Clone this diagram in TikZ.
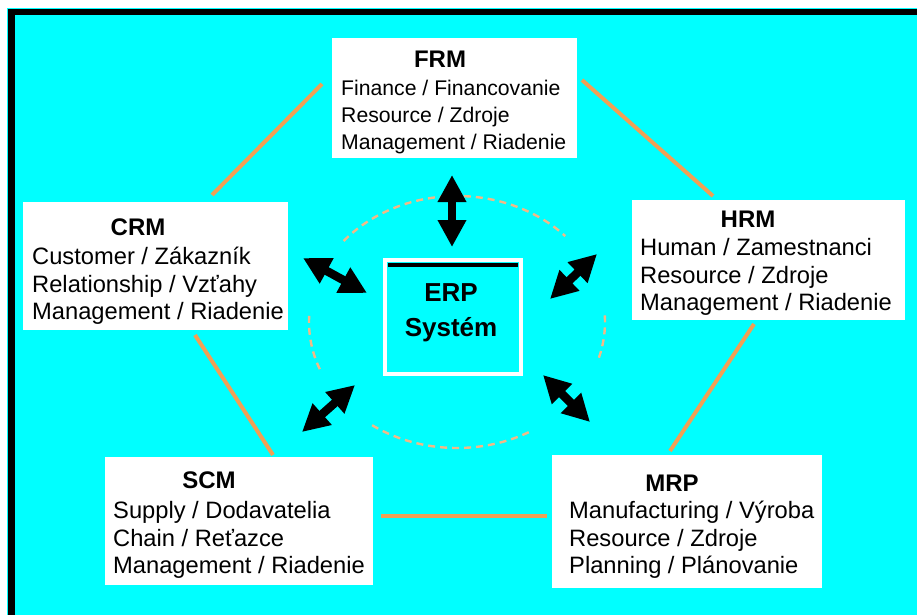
\documentclass[tikz,border=0pt]{standalone}
\usepackage{fontspec}
\setmainfont{Liberation Sans}
\usepackage{tikz}
\usetikzlibrary{arrows.meta}
\usetikzlibrary{calc}
\usetikzlibrary{positioning}
\definecolor{sky}{RGB}{0,255,255}
\definecolor{rope}{RGB}{240,160,85}
\definecolor{ringc}{RGB}{242,185,135}

\begin{document}
\begin{tikzpicture}[x=1pt, y=-1pt,
			module/.style={rectangle, fill=white, inner sep=0pt},
			head/.style={inner sep=0pt, font=\fontsize{24}{28}\selectfont\bfseries},
			body/.style={inner sep=0pt, anchor=west, align=left, font=\fontsize{23.7}{27.5}\selectfont},
			link/.style={rope, line width=4pt},
			ring/.style={ringc, line width=2.4pt, dash pattern=on 7pt off 5pt},
			flow/.style={line width=8.5pt, {Triangle[length=27pt,width=27pt]}-{Triangle[length=27pt,width=27pt]}}
		]
		\useasboundingbox (0,0) rectangle (917,615);
		\fill[white] (0,0) rectangle (917,615);
		\fill[sky] (7,8) rectangle (917,615);
		\fill[black] (8,9) rectangle (917,15);
		\fill[black] (8,9) rectangle (15,615);

		% modules
		\node[module, minimum width=245pt, minimum height=120pt] (frm) at (454.5,98) {};
		\node[module, minimum width=265pt, minimum height=128pt] (crm) at (155.5,266) {};
		\node[module, minimum width=273pt, minimum height=120pt] (hrm) at (768.5,260) {};
		\node[module, minimum width=268pt, minimum height=128pt] (scm) at (239,521) {};
		\node[module, minimum width=270pt, minimum height=133pt] (mrp) at (687,521.5) {};

		\node[head] (frm-t) at (440,59) {FRM};
		\node[head] (crm-t) at (138,227) {CRM};
		\node[head] (hrm-t) at (748,219) {HRM};
		\node[head] (scm-t) at (209,480) {SCM};
		\node[head] (mrp-t) at (672,483) {MRP};

		\node[body, font=\fontsize{21.2}{27}\selectfont] (frm-b) at (341,117) {Finance / Financovanie\\Resource / Zdroje\\Management / Riadenie};
		\node[body] (crm-b) at (32,286) {Customer / Zákazník\\Relationship / Vzťahy\\Management / Riadenie};
		\node[body] (hrm-b) at (640,277) {Human / Zamestnanci\\Resource / Zdroje\\Management / Riadenie};
		\node[body] (scm-b) at (113,540) {Supply / Dodavatelia\\Chain / Reťazce\\Management / Riadenie};
		\node[body] (mrp-b) at (569,540) {Manufacturing / Výroba\\Resource / Zdroje\\Planning / Plánovanie};

		% ERP core
		\node[draw=white, line width=4pt, minimum width=136pt, minimum height=114pt] (erp) at (453,317) {};
		\fill[black] (388,263) rectangle (518,267);
		\node[align=center, inner sep=0pt, font=\fontsize{26}{35}\selectfont\bfseries] (erp-t) at (451,313) {ERP\\Systém};

		% ring around the core
		\coordinate (hub) at (457,322);
		\draw[ring] (hub) ++(-140:148 and 126) arc[start angle=-140, end angle=-43, x radius=148, y radius=126];
		\draw[ring] (hub) ++(158:148 and 126) arc[start angle=158, end angle=184, x radius=148, y radius=126];
		\draw[ring] (hub) ++(-3:148 and 126) arc[start angle=-3, end angle=17, x radius=148, y radius=126];
		\draw[ring] (hub) ++(61:148 and 126) arc[start angle=61, end angle=126, x radius=148, y radius=126];

		% outer links
		\coordinate (l1) at (322,84);  \coordinate (l2) at (212,195);
		\coordinate (l3) at (582,80);  \coordinate (l4) at (713,196);
		\coordinate (l5) at (195,335); \coordinate (l6) at (273,455);
		\coordinate (l7) at (754,324); \coordinate (l8) at (670,451);
		\coordinate (l9) at (381,516); \coordinate (l10) at (547,516);
		\draw[link] (l1) -- (l2);
		\draw[link] (l3) -- (l4);
		\draw[link] (l5) -- (l6);
		\draw[link] (l7) -- (l8);
		\draw[link] (l9) -- (l10);

		% exchange arrows
		\coordinate (a1) at (452,175); \coordinate (b1) at (452,247);
		\coordinate (a2) at (303,258); \coordinate (b2) at (367,293);
		\coordinate (a3) at (597,254); \coordinate (b3) at (550,299);
		\coordinate (a4) at (302,432); \coordinate (b4) at (355,385);
		\coordinate (a5) at (590,422); \coordinate (b5) at (543,375);
		\foreach \i in {1,...,5}
			\draw[flow] (a\i) -- (b\i);
	\end{tikzpicture}
\end{document}
